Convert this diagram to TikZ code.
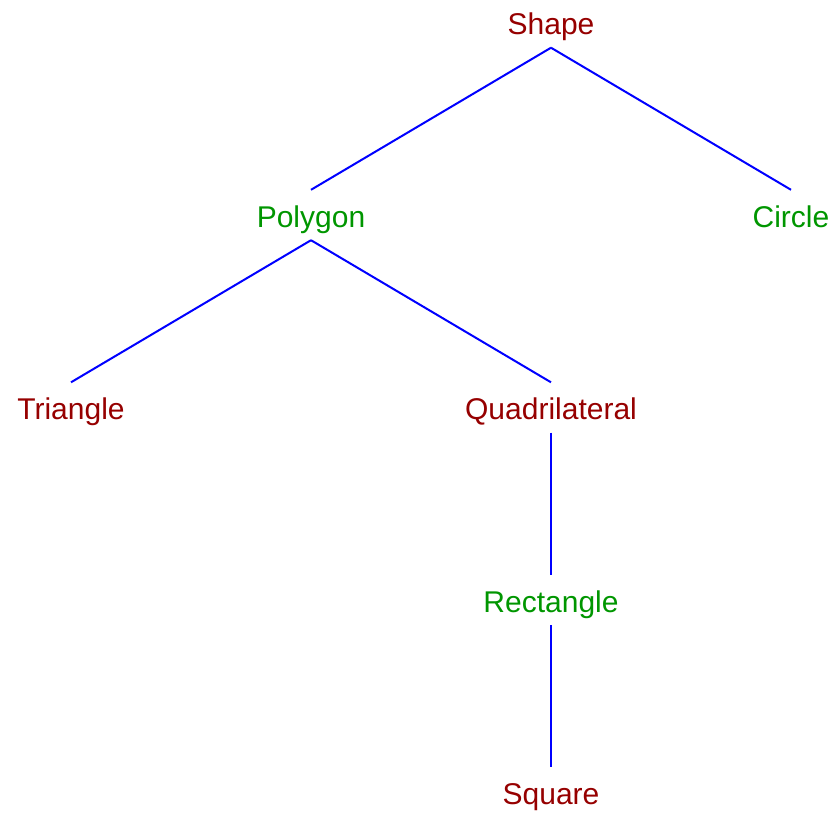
\documentclass[tikz,border=0pt]{standalone}
\usepackage{fontspec}
\setmainfont{Liberation Sans}
\definecolor{nodered}{RGB}{150,0,0}
\definecolor{nodegreen}{RGB}{0,150,0}
\begin{document}
\begin{tikzpicture}[x=1pt,y=-1pt,
  lbl/.style={anchor=base,inner sep=0pt,text height=37pt,text depth=13pt,font=\fontsize{30}{36}\selectfont},
  rednode/.style={lbl,text=nodered},
  greennode/.style={lbl,text=nodegreen},
  edge/.style={draw=blue,line width=2pt}]
\useasboundingbox (0,0) rectangle (837,815);
\node[rednode] (shape) at (551,34.5) {Shape};
\node[greennode] (polygon) at (311,227) {Polygon};
\node[greennode] (circle) at (791,227) {Circle};
\node[rednode] (triangle) at (71,419.5) {Triangle};
\node[rednode] (quad) at (551,419.5) {Quadrilateral};
\node[greennode] (rect) at (551,612) {Rectangle};
\node[rednode] (square) at (551,804.5) {Square};
\draw[edge] (shape.south) -- (polygon.north);
\draw[edge] (shape.south) -- (circle.north);
\draw[edge] (polygon.south) -- (triangle.north);
\draw[edge] (polygon.south) -- (quad.north);
\draw[edge] (quad.south) -- (rect.north);
\draw[edge] (rect.south) -- (square.north);
\end{tikzpicture}
\end{document}
